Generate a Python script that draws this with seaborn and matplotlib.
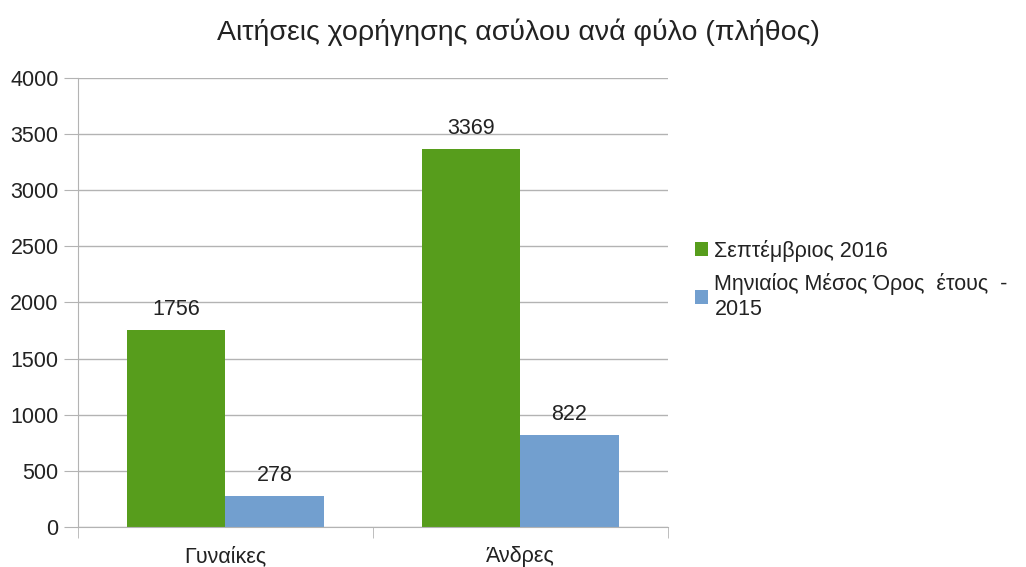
import pandas as pd
import seaborn as sns
import matplotlib.pyplot as plt
from matplotlib.ticker import FixedLocator

categories = ["Γυναίκες", "Άνδρες"]
series = ["Σεπτέμβριος 2016", "Μηνιαίος Μέσος Όρος  έτους  -\n2015"]
sept_2016 = [1756, 3369]
avg_2015 = [278, 822]
colors = ["#579d1c", "#729fcf"]

df = pd.DataFrame({
    "cat": categories * 2,
    "series": [series[0]] * 2 + [series[1]] * 2,
    "value": sept_2016 + avg_2015,
})

sns.set_style("white")
plt.rcParams["font.family"] = ["Liberation Sans", "DejaVu Sans"]

fig = plt.figure(figsize=(10.26, 5.67), dpi=100)
ax = fig.add_axes([0.076, 0.0705, 0.575, 0.792])

sns.barplot(data=df, x="cat", y="value", hue="series", order=categories,
            hue_order=series, palette=colors, width=0.665, saturation=1,
            linewidth=0, ax=ax, errorbar=None)

for cont in ax.containers:
    ax.bar_label(cont, fmt="%d", padding=7, fontsize=15.5, color="#222222")

ax.set_xlim(-0.5, 1.5)
ax.set_ylim(0, 4000)
ax.set_yticks(range(0, 4001, 500))
ax.grid(axis="y", color="#b3b3b3", linewidth=1)
ax.set_axisbelow(True)
for side in ["top", "right"]:
    ax.spines[side].set_visible(False)
for side in ["left", "bottom"]:
    ax.spines[side].set_color("#b3b3b3")
ax.tick_params(axis="y", length=10, color="#b3b3b3", labelsize=15.5, labelcolor="#222222", pad=4, left=True)
ax.tick_params(axis="x", which="major", length=0, labelsize=15.5, labelcolor="#222222", pad=14)
ax.xaxis.set_minor_locator(FixedLocator([-0.5, 0.5, 1.5]))
ax.tick_params(axis="x", which="minor", length=8, color="#b3b3b3", bottom=True)
ax.set_xlabel("")
ax.set_ylabel("")

ax.legend(loc="upper left", bbox_to_anchor=(1.046, 0.64), frameon=False,
          fontsize=15.5, handlelength=0.6, handleheight=0.6, handletextpad=0.3,
          labelspacing=0.55, borderpad=0, borderaxespad=0, labelcolor="#222222")

fig.suptitle("Αιτήσεις χορήγησης ασύλου ανά φύλο (πλήθος)", x=0.505, y=0.967,
             fontsize=20.5, color="#222222")

fig.savefig("out.png", dpi=100)
